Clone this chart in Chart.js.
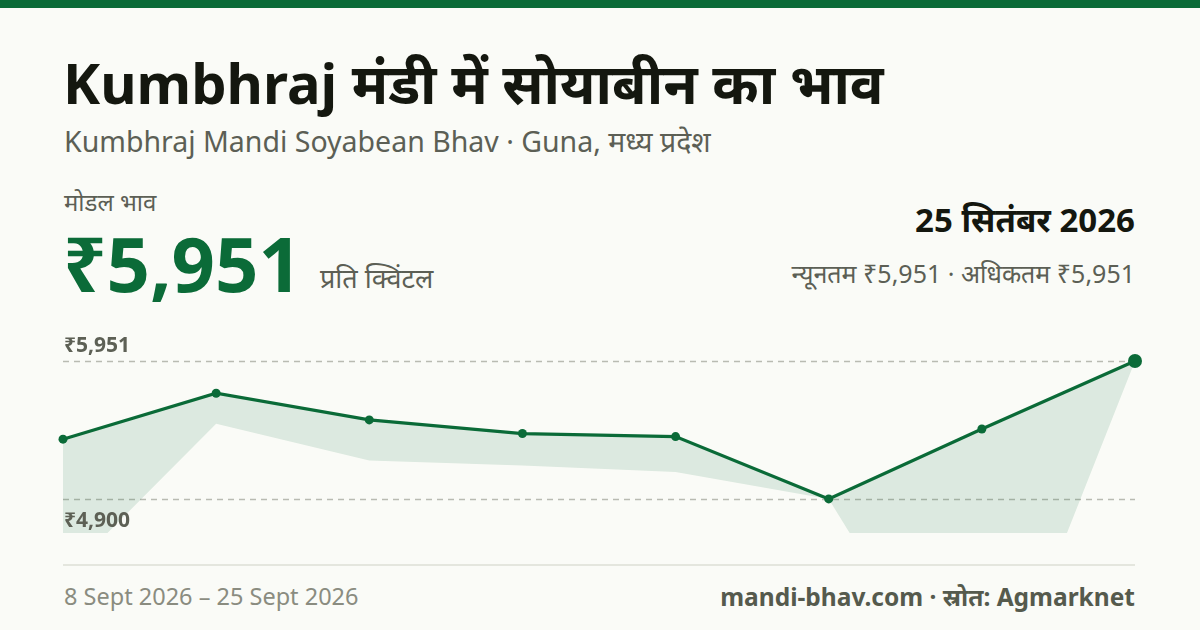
<!DOCTYPE html>
<html>
<head>
<meta charset="utf-8">
<script src="https://cdn.jsdelivr.net/npm/chart.js@4.4.1/dist/chart.umd.min.js"></script>
<style>
  html, body { margin: 0; padding: 0; }
  body { width: 1200px; height: 630px; background: #fafbf7; position: relative; overflow: hidden; font-family: "Noto Sans", sans-serif; }
  .bar { position: absolute; left: 0; top: 0; width: 1200px; height: 8px; background: #0b6b38; }
  .t { position: absolute; white-space: nowrap; line-height: 1; }
  #title { left: 63px; top: 54px; font-size: 56px; font-weight: 700; color: #14170f; }
  #sub { left: 64px; top: 127px; font-size: 28.5px; color: #5c5f55; }
  #lbl { left: 64px; top: 190px; font-size: 24px; color: #5c5f55; }
  #price { left: 63px; top: 225px; font-size: 76px; font-weight: 700; color: #0b6b38; }
  #unit { left: 320px; top: 264px; font-size: 27px; color: #5c5f55; }
  #date { right: 65px; top: 203px; font-size: 33px; font-weight: 700; color: #14170f; }
  #range { right: 65px; top: 261px; font-size: 25px; color: #5c5f55; }
  .rule { position: absolute; left: 63px; top: 564px; width: 1072px; height: 2px; background: #e4e6de; }
  #from { left: 64px; top: 585px; font-size: 23.5px; color: #8a8c80; }
  #src { right: 65px; top: 585px; font-size: 24.5px; font-weight: 700; color: #555a4d; }
  #wrap { position: absolute; left: 0; top: 300px; width: 1200px; height: 250px; }
</style>
</head>
<body>
<div class="bar"></div>
<div class="t" id="title">Kumbhraj मंडी में सोयाबीन का भाव</div>
<div class="t" id="sub">Kumbhraj Mandi Soyabean Bhav · Guna, मध्य प्रदेश</div>
<div class="t" id="lbl">मोडल भाव</div>
<div class="t" id="price">₹5,951</div>
<div class="t" id="unit">प्रति क्विंटल</div>
<div class="t" id="date">25 सितंबर 2026</div>
<div class="t" id="range">न्यूनतम ₹5,951 · अधिकतम ₹5,951</div>
<div class="rule"></div>
<div class="t" id="from">8 Sept 2026 – 25 Sept 2026</div>
<div class="t" id="src">mandi-bhav.com · स्रोत: Agmarknet</div>
<div id="wrap"><canvas id="chart"></canvas></div>

<script>
// price history (Rs per quintal)
const dates = ['8 Sept', '10 Sept', '12 Sept', '15 Sept', '17 Sept', '19 Sept', '22 Sept', '25 Sept'];
const modalPrices = [5355, 5705, 5502, 5398, 5375, 4900, 5433, 5951];
const maxPrices = [5355, 5705, 5502, 5398, 5375, 4900, 5433, 5951];
const minPrices = [4300, 5472, 5193, 5155, 5105, 4900, 3000, 5951];
const refLines = [5951, 4900];
const refLabels = ['₹5,951', '₹4,900'];

const green = '#0b6b38';

// dashed reference lines with their labels
const refPlugin = {
    id: 'refLines',
    beforeDatasetsDraw(chart) {
        const ctx = chart.ctx;
        const area = chart.chartArea;
        const y = chart.scales.y;
        ctx.save();
        ctx.strokeStyle = '#b9bbb2';
        ctx.lineWidth = 1.5;
        ctx.setLineDash([6, 5]);
        refLines.forEach(v => {
            const py = Math.round(y.getPixelForValue(v)) + 0.5;
            ctx.beginPath();
            ctx.moveTo(area.left, py);
            ctx.lineTo(area.right, py);
            ctx.stroke();
        });
        ctx.restore();
    },
    afterDatasetsDraw(chart) {
        const ctx = chart.ctx;
        const area = chart.chartArea;
        const y = chart.scales.y;
        ctx.save();
        ctx.font = '700 21px "Noto Sans"';
        ctx.fillStyle = '#5d6055';
        ctx.textAlign = 'left';
        ctx.textBaseline = 'alphabetic';
        ctx.fillText(refLabels[0], area.left + 1, y.getPixelForValue(refLines[0]) - 9);
        ctx.fillText(refLabels[1], area.left + 1, y.getPixelForValue(refLines[1]) + 28);
        ctx.restore();
    }
};

new Chart(document.getElementById('chart'), {
    type: 'line',
    data: {
        labels: dates,
        datasets: [
            {
                label: 'min',
                data: minPrices,
                borderWidth: 0,
                borderColor: 'transparent',
                pointRadius: 0,
                fill: false
            },
            {
                label: 'max',
                data: maxPrices,
                borderWidth: 0,
                borderColor: 'transparent',
                pointRadius: 0,
                backgroundColor: 'rgba(11, 107, 56, 0.12)',
                fill: 0
            },
            {
                label: 'modal',
                data: modalPrices,
                borderColor: green,
                borderWidth: 3.2,
                backgroundColor: green,
                pointBackgroundColor: green,
                pointBorderWidth: 0,
                pointRadius: [4.5, 4.5, 4.5, 4.5, 4.5, 4.5, 4.5, 7],
                tension: 0,
                fill: false
            }
        ]
    },
    options: {
        responsive: true,
        maintainAspectRatio: false,
        animation: false,
        layout: { padding: { left: 63, right: 65, top: 27, bottom: 17 } },
        plugins: {
            legend: { display: false },
            tooltip: { enabled: false }
        },
        scales: {
            x: { display: false },
            y: { display: false, min: 4640, max: 6210 }
        }
    },
    plugins: [refPlugin]
});
</script>
</body>
</html>
